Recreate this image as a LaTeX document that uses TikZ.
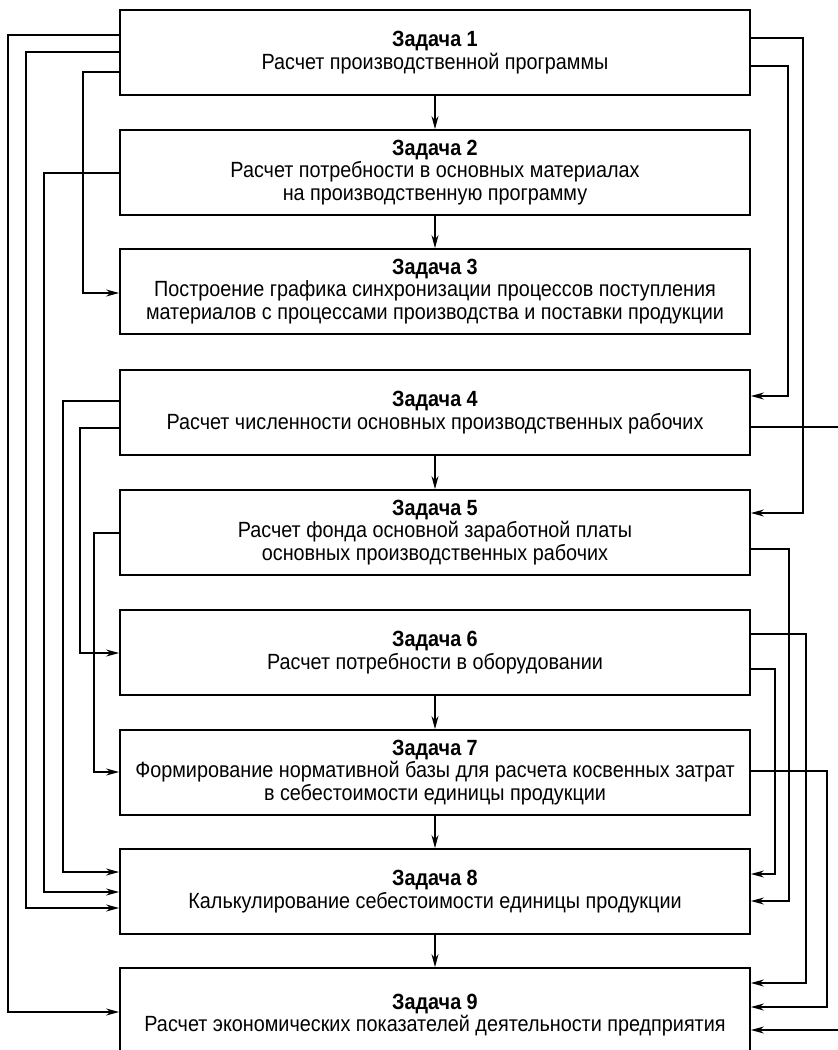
\documentclass[tikz,border=0pt]{standalone}
\usepackage{fontspec}
\setmainfont[FakeStretch=0.9]{Liberation Sans}
\usetikzlibrary{arrows.meta}

\begin{document}
\begin{tikzpicture}[x=1pt,y=-1pt]
\tikzstyle{task}=[draw, line width=1.8pt, minimum width=630pt, minimum height=85pt, inner sep=0pt, align=center, font=\fontsize{22}{22.5}\selectfont]
\tikzstyle{flow}=[line width=1.6pt, -{Stealth[length=13pt,width=7pt]}]
\useasboundingbox (0,0) rectangle (838,1050);
\clip (0,0) rectangle (838,1050);
% tasks
\node[task] (t1) at (435,52.5) {\textbf{Задача 1}\\Расчет производственной программы};
\node[task] (t2) at (435,172.5) {\textbf{Задача 2}\\Расчет потребности в основных материалах\\на производственную программу};
\node[task] (t3) at (435,291.5) {\textbf{Задача 3}\\Построение графика синхронизации процессов поступления\\материалов с процессами производства и поставки продукции};
\node[task] (t4) at (435,412.5) {\textbf{Задача 4}\\Расчет численности основных производственных рабочих};
\node[task] (t5) at (435,532.5) {\textbf{Задача 5}\\Расчет фонда основной заработной платы\\основных производственных рабочих};
\node[task] (t6) at (435,652.5) {\textbf{Задача 6}\\Расчет потребности в оборудовании};
\node[task] (t7) at (435,772.5) {\textbf{Задача 7}\\Формирование нормативной базы для расчета косвенных затрат\\в себестоимости единицы продукции};
\node[task] (t8) at (435,891.5) {\textbf{Задача 8}\\Калькулирование себестоимости единицы продукции};
\node[task, minimum height=94pt] (t9) at (435,1015) {\textbf{Задача 9}\\Расчет экономических показателей деятельности предприятия};
\coordinate (out4) at (838,427);
\coordinate (in9) at (838,1030);
% straight down
\draw[flow] (t1) -- (t2);
\draw[flow] (t2) -- (t3);
\draw[flow] (t4) -- (t5);
\draw[flow] (t6) -- (t7);
\draw[flow] (t7) -- (t8);
\draw[flow] (t8) -- (t9);
% left side
\draw[flow] (t1.west |- 0,35) -- ++(-111,0) |- (t9.west |- 0,1012);
\draw[flow] (t1.west |- 0,52) -- ++(-93,0) |- (t8.west |- 0,908);
\draw[flow] (t1.west |- 0,72) -- ++(-36,0) |- (t3.west |- 0,293);
\draw[flow] (t2.west |- 0,173) -- ++(-75,0) |- (t8.west |- 0,892);
\draw[flow] (t4.west |- 0,401) -- ++(-56,0) |- (t8.west |- 0,872);
\draw[flow] (t4.west |- 0,428) -- ++(-39,0) |- (t6.west |- 0,653);
\draw[flow] (t5.west |- 0,533) -- ++(-25,0) |- (t7.west |- 0,772);
% right side
\draw[flow] (t1.east |- 0,38) -- ++(52,0) |- (t5.east |- 0,513);
\draw[flow] (t1.east |- 0,66) -- ++(37,0) |- (t4.east |- 0,396);
\draw[line width=1.6pt] (t4.east |- out4) -- (out4);
\draw[flow] (t5.east |- 0,549) -- ++(38,0) |- (t8.east |- 0,901);
\draw[flow] (t6.east |- 0,634) -- ++(55,0) |- (t9.east |- 0,983);
\draw[flow] (t6.east |- 0,669) -- ++(24,0) |- (t8.east |- 0,874);
\draw[flow] (t7.east |- 0,771) -- ++(76,0) |- (t9.east |- 0,1007);
\draw[flow] (in9) -- (t9.east |- in9);
\end{tikzpicture}
\end{document}
